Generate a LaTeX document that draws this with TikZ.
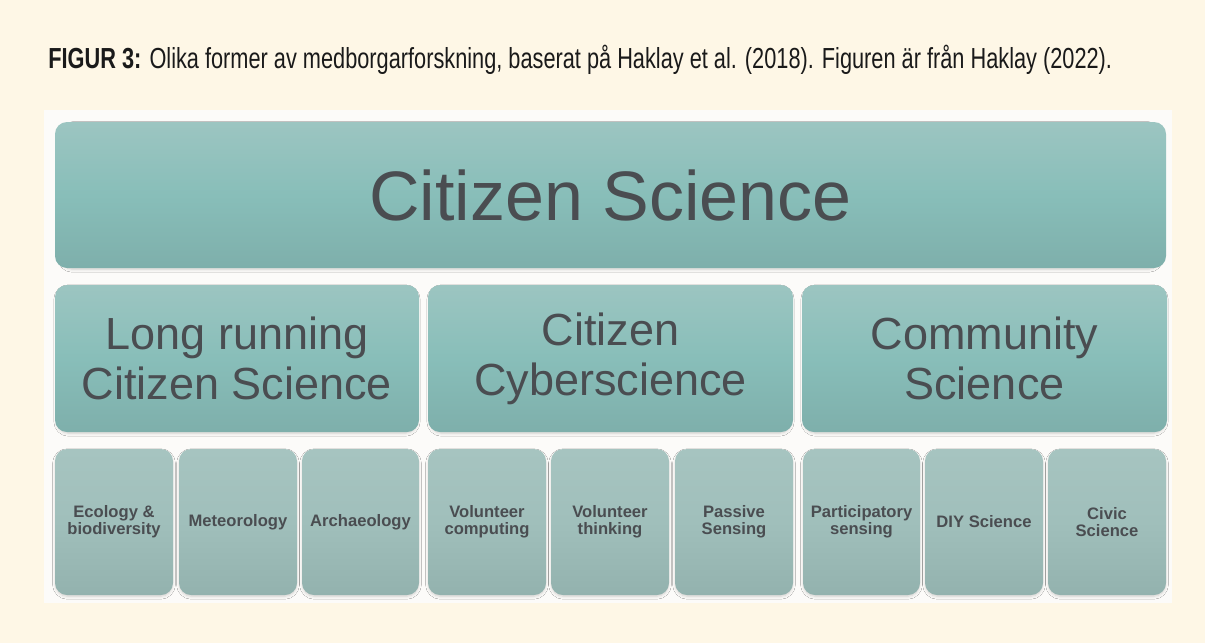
\documentclass[tikz,border=0pt]{standalone}
\usepackage{fontspec,xcolor,tikz}
\setmainfont{Liberation Sans}
\newfontfamily\capfont[FakeStretch=0.75]{Liberation Sans}
\usetikzlibrary{shadows.blur}
\definecolor{creme}{HTML}{FEF7E6}
\definecolor{panel}{HTML}{FCFBF9}
\definecolor{ink}{HTML}{1A1A1A}
\definecolor{txt}{HTML}{4A4D51}
\definecolor{tealtop}{HTML}{9CC5C1}
\definecolor{tealmid}{HTML}{88BEB9}
\definecolor{tealbot}{HTML}{7EAFAB}
\definecolor{greytop}{HTML}{A6C4C0}
\definecolor{greymid}{HTML}{A0BFBB}
\definecolor{greybot}{HTML}{93B2AE}
\newcommand{\capsize}{\fontsize{14.5}{16}\selectfont}
\tikzset{feld/.style={rounded corners=6pt,inner sep=0pt,text=txt,align=center,
    blur shadow={shadow xshift=0pt,shadow yshift=-1pt,shadow scale=0.99,
      shadow blur radius=1.5pt,shadow blur steps=5,shadow opacity=18}},
  gross/.style={feld,top color=tealtop,bottom color=tealbot,middle color=tealmid},
  mittel/.style={gross,font=\fontsize{22.5}{25}\selectfont},
  klein/.style={feld,top color=greytop,bottom color=greybot,middle color=greymid,
    font=\bfseries\fontsize{8.3}{8.6}\selectfont}}
% name, x1, x2, y1, y2, style, text (pixel coordinates)
\newcommand{\feld}[7]{\node[#6,minimum width={(#3-#2)*0.5pt},minimum height={(#5-#4)*0.5pt}]
  (#1) at ({(#2+#3)/2},{(#4+#5)/2}) {#7};}

\begin{document}
\begin{tikzpicture}[x=0.5pt,y=-0.5pt]
\useasboundingbox (0,0) rectangle (1205,643);
\fill[creme] (0,0) rectangle (1205,643);
\node[anchor=base west,inner sep=0,text=ink,font=\capfont\capsize] (caption) at (48,68)
  {\bfseries FIGUR 3:\mdseries{} Olika former av medborgarforskning, baserat på Haklay et al. (2018). Figuren är från Haklay (2022).};
\fill[panel] (44,110) rectangle (1172,603);
% obere Ebene
\feld{cs}{55}{1166}{122}{268}{gross,font=\fontsize{35}{38}\selectfont}{Citizen Science}
% mittlere Ebene
\feld{lr}{55}{419}{285}{432}{mittel}{Long running\\Citizen Science}
\feld{cc}{428}{793}{285}{432}{mittel}{Citizen\\Cyberscience}
\feld{cm}{802}{1167}{285}{432}{mittel}{Community\\Science}
% untere Ebene
\feld{eco}{55}{173}{449}{595}{klein}{Ecology \&\\biodiversity}
\feld{met}{179}{297}{449}{595}{klein}{Meteorology}
\feld{arc}{302}{419}{449}{595}{klein}{Archaeology}
\feld{vc}{428}{546}{449}{595}{klein}{Volunteer\\computing}
\feld{vt}{551}{669}{449}{595}{klein}{Volunteer\\thinking}
\feld{ps}{675}{793}{449}{595}{klein}{Passive\\Sensing}
\feld{psen}{803}{920}{449}{595}{klein}{Participatory\\sensing}
\feld{diy}{925}{1043}{449}{595}{klein}{DIY Science}
\feld{civ}{1048}{1166}{449}{595}{klein}{Civic\\Science}
\end{tikzpicture}
\end{document}
